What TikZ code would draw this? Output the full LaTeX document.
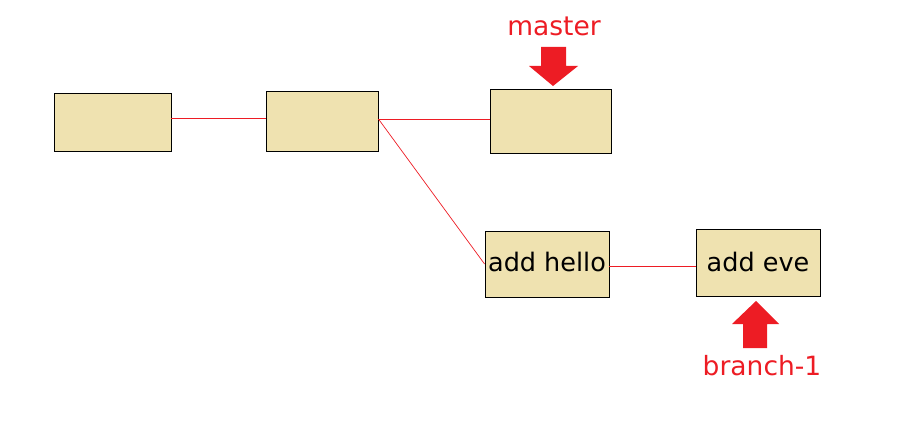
\documentclass[tikz,border=0pt]{standalone}
\usepackage{fontspec}
\setmainfont{DejaVu Sans}
\definecolor{boxfill}{HTML}{EFE2B0}
\definecolor{gitred}{HTML}{ED1C24}
\begin{document}
\begin{tikzpicture}[x=1pt,y=-1pt,
  commit/.style={draw=black,line width=0.9pt,fill=boxfill,inner sep=0pt,font=\fontsize{25.5}{30}\selectfont},
  link/.style={draw=gitred,line width=0.7pt},
  label/.style={text=gitred,inner sep=0pt,font=\fontsize{26.5}{31}\selectfont},
  bigarrow/.style={fill=gitred,draw=none}]
\useasboundingbox (0,0) rectangle (904,441);
\node[commit,minimum width=117pt,minimum height=58pt] (A) at (112.5,122) {};
\node[commit,minimum width=112pt,minimum height=60pt] (B) at (322,121) {};
\node[commit,minimum width=121pt,minimum height=64pt] (C) at (550.5,121) {};
\node[commit,minimum width=124pt,minimum height=66pt] (D) at (547,264) {\raisebox{4pt}{add hello}};
\node[commit,minimum width=124pt,minimum height=67pt] (E) at (758,262.5) {\raisebox{2pt}{add eve}};
\draw[link] ([yshift=4pt]A.east) -- ([yshift=3pt]B.west);
\draw[link] ([yshift=2pt]B.east) -- ([yshift=2pt]C.west);
\draw[link] ([yshift=2pt]B.east) -- (D.west);
\draw[link] ([yshift=-2pt]D.east) -- ([yshift=-3.5pt]E.west);
\node[label] (master) at (554,26) {master};
\node[label] (branch) at (762,366) {branch-1};
\fill[bigarrow] (541,47) -- (566,47) -- (566,66) -- (578,66) -- (553,86) -- (529,66) -- (541,66) -- cycle;
\fill[bigarrow] (743,348) -- (767,348) -- (767,324) -- (779,324) -- (756,301) -- (732,324) -- (743,324) -- cycle;
\end{tikzpicture}
\end{document}
